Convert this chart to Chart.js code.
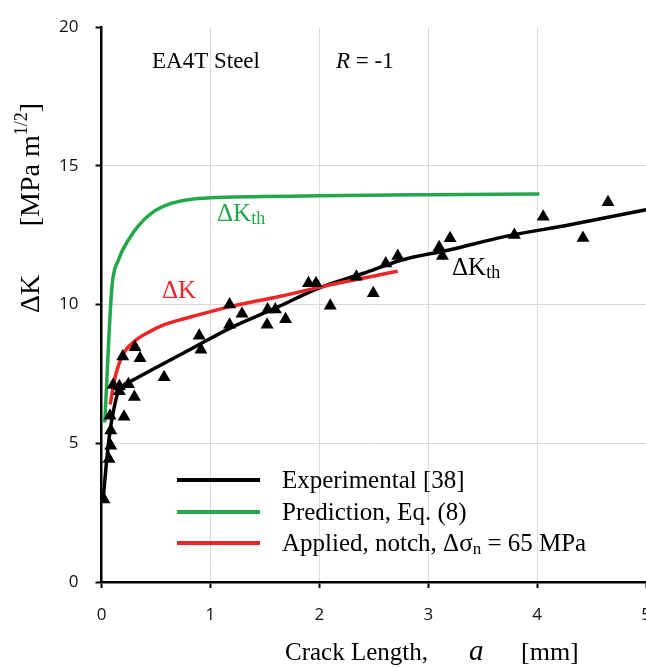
<!DOCTYPE html>
<html>
<head>
<meta charset="utf-8">
<script src="https://cdn.jsdelivr.net/npm/chart.js@4"></script>
<style>
	html, body { margin: 0; padding: 0; background: #fff; overflow: hidden; }
	#wrap { width: 646px; height: 668px; overflow: hidden; }
</style>
</head>
<body>
<div id="wrap"><canvas id="myChart" width="668" height="668"></canvas></div>
<script>
// crack length a [mm] and threshold dK [MPa m^1/2]
const expA = [0.016, 0.046, 0.077, 0.107, 0.15, 0.21, 0.28, 0.52, 0.83, 1.2, 1.6, 2.0, 2.4, 2.75, 3.2, 3.7, 4.3, 5.0]
const expK = [3.0, 4.33, 5.4, 6.11, 6.82, 7.12, 7.26, 7.77, 8.42, 9.19, 9.88, 10.6, 11.12, 11.6, 11.98, 12.45, 12.88, 13.42]

const predA = [0.03, 0.095, 0.155, 0.25, 0.34, 0.46, 0.62, 0.8, 1.0, 2.0, 3.0, 4.02]
const predK = [5.75, 10.6, 11.6, 12.35, 12.85, 13.3, 13.62, 13.78, 13.85, 13.92, 13.96, 13.99]

const applA = [0.08, 0.12, 0.19, 0.30, 0.42, 0.56, 0.72, 0.88, 1.15, 1.64, 2.10, 2.72]
const applK = [6.4, 7.3, 8.15, 8.67, 8.98, 9.25, 9.45, 9.62, 9.9, 10.3, 10.71, 11.2]

const testA = [0.023, 0.069, 0.085, 0.085, 0.078, 0.207, 0.106, 0.164, 0.164, 0.247, 0.302, 0.195, 0.308, 0.354, 0.575,
	0.897, 0.913, 1.176, 1.176, 1.29, 1.525, 1.596, 1.52, 1.69, 1.90, 1.97, 2.10, 2.34, 2.495, 2.61, 2.72,
	3.10, 3.13, 3.20, 3.79, 4.055, 4.42, 4.65]
const testK = [2.97, 4.43, 4.91, 5.46, 5.99, 5.96, 7.10, 7.06, 6.88, 7.13, 6.67, 8.13, 8.46, 8.07, 7.38,
	8.88, 8.37, 10.0, 9.27, 9.67, 9.82, 9.82, 9.27, 9.47, 10.77, 10.77, 9.96, 11.0, 10.41, 11.48, 11.75,
	12.07, 11.75, 12.39, 12.51, 13.17, 12.40, 13.69]

const xTicks = [0, 1, 2, 3, 4, 5]
const yTicks = [0, 5, 10, 15, 20]

const SERIF = "'Liberation Serif', 'Times New Roman', serif"
const GREEN = "#22a84a"
const RED = "#ee2426"

function toPoints(xs, ys) {
	return xs.map((x, i) => ({ x: x, y: ys[i] }))
}

// draws text pieces one after another, each with its own font / shift
function drawRich(ctx, x, y, parts, align) {
	let total = 0
	parts.forEach(p => {
		ctx.font = p.font
		p.w = ctx.measureText(p.t).width
		total += p.w
	})
	let cx = align === "right" ? x - total : x
	parts.forEach(p => {
		ctx.font = p.font
		ctx.fillText(p.t, cx, y + (p.dy || 0))
		cx += p.w
	})
}

const textPlugin = {
	id: "textPlugin",
	afterDraw(chart) {
		const ctx = chart.ctx
		ctx.save()
		ctx.textBaseline = "alphabetic"
		ctx.textAlign = "left"
		ctx.fillStyle = "#000"

		// x title
		ctx.font = "25px " + SERIF
		ctx.fillText("Crack Length,", 285, 660)
		ctx.font = "italic 29px " + SERIF
		ctx.fillText("a", 469, 660)
		ctx.font = "26px " + SERIF
		ctx.fillText("[mm]", 521, 660)

		// y title, rotated
		ctx.save()
		ctx.translate(39, 313)
		ctx.rotate(-Math.PI / 2)
		ctx.font = "28px " + SERIF
		ctx.fillText("ΔK", 0, 0)
		drawRich(ctx, 210, 0, [
			{ t: "[MPa m", font: "28px " + SERIF },
			{ t: "1/2", font: "18px " + SERIF, dy: -12 },
			{ t: "]", font: "28px " + SERIF }
		], "right")
		ctx.restore()

		// notes in the plot
		ctx.font = "23px " + SERIF
		ctx.fillText("EA4T Steel", 152, 68)
		drawRich(ctx, 336, 68, [
			{ t: "R", font: "italic 23px " + SERIF },
			{ t: " = -1", font: "23px " + SERIF }
		])

		ctx.fillStyle = GREEN
		drawRich(ctx, 217, 221, [
			{ t: "ΔK", font: "25px " + SERIF },
			{ t: "th", font: "18px " + SERIF, dy: 3 }
		])
		ctx.fillStyle = RED
		ctx.font = "25px " + SERIF
		ctx.fillText("ΔK", 162, 298)
		ctx.fillStyle = "#000"
		drawRich(ctx, 452, 275, [
			{ t: "ΔK", font: "25px " + SERIF },
			{ t: "th", font: "18px " + SERIF, dy: 3 }
		])

		// legend
		const rows = [
			{ color: "#000", y: 480, parts: [{ t: "Experimental [38]", font: "25px " + SERIF }] },
			{ color: GREEN, y: 512, parts: [{ t: "Prediction, Eq. (8)", font: "25px " + SERIF }] },
			{ color: RED, y: 543, parts: [
				{ t: "Applied, notch, Δσ", font: "25px " + SERIF },
				{ t: "n", font: "17px " + SERIF, dy: 3 },
				{ t: " = 65 MPa", font: "25px " + SERIF }
			] }
		]
		rows.forEach(r => {
			ctx.strokeStyle = r.color
			ctx.lineWidth = 4
			ctx.beginPath()
			ctx.moveTo(177, r.y)
			ctx.lineTo(260, r.y)
			ctx.stroke()
			ctx.fillStyle = "#000"
			drawRich(ctx, 282, r.y + 8, r.parts)
		})
		ctx.restore()
	}
}

const lineStyle = {
	showLine: true,
	pointRadius: 0,
	borderWidth: 3.5,
	cubicInterpolationMode: "monotone",
	fill: false
}

new Chart("myChart", {
	type: "scatter",
	data: {
		datasets: [
			{ label: "Experimental [38]", data: toPoints(expA, expK), borderColor: "#000", order: 3, ...lineStyle },
			{ label: "Prediction, Eq. (8)", data: toPoints(predA, predK), borderColor: GREEN, order: 2, ...lineStyle },
			{ label: "Applied, notch", data: toPoints(applA, applK), borderColor: RED, order: 1, ...lineStyle },
			{
				label: "tests",
				data: toPoints(testA, testK),
				pointStyle: "triangle",
				pointRadius: 7.5,
				backgroundColor: "#000",
				borderColor: "#000",
				borderWidth: 0,
				showLine: false,
				order: 0
			}
		]
	},
	options: {
		responsive: false,
		animation: false,
		devicePixelRatio: 1,
		layout: { padding: { top: 18, right: 0, left: 0, bottom: 0 } },
		plugins: {
			legend: { display: false },
			tooltip: { enabled: false }
		},
		scales: {
			x: {
				type: "linear",
				min: 0,
				max: 5,
				afterBuildTicks: s => { s.ticks = xTicks.map(v => ({ value: v })) },
				afterFit: s => { s.height = 86 },
				border: { display: true, color: "#000", width: 2.5 },
				grid: { color: "#dadada", lineWidth: 1, tickColor: "#000", tickLength: 6, tickWidth: 2 },
				ticks: { color: "#111", padding: 17, font: { family: "'Open Sans'", size: 17 } }
			},
			y: {
				type: "linear",
				min: 0,
				max: 20,
				afterBuildTicks: s => { s.ticks = yTicks.map(v => ({ value: v })) },
				afterFit: s => { s.width = 101.5 },
				border: { display: true, color: "#000", width: 2.5 },
				grid: {
					color: c => (c.tick && c.tick.value === 20 ? "rgba(0,0,0,0)" : "#dadada"),
					lineWidth: 1, tickColor: "#000", tickLength: 6, tickWidth: 2
				},
				ticks: { color: "#111", padding: 17, font: { family: "'Open Sans'", size: 17 } }
			}
		}
	},
	plugins: [textPlugin]
})
</script>
</body>
</html>
